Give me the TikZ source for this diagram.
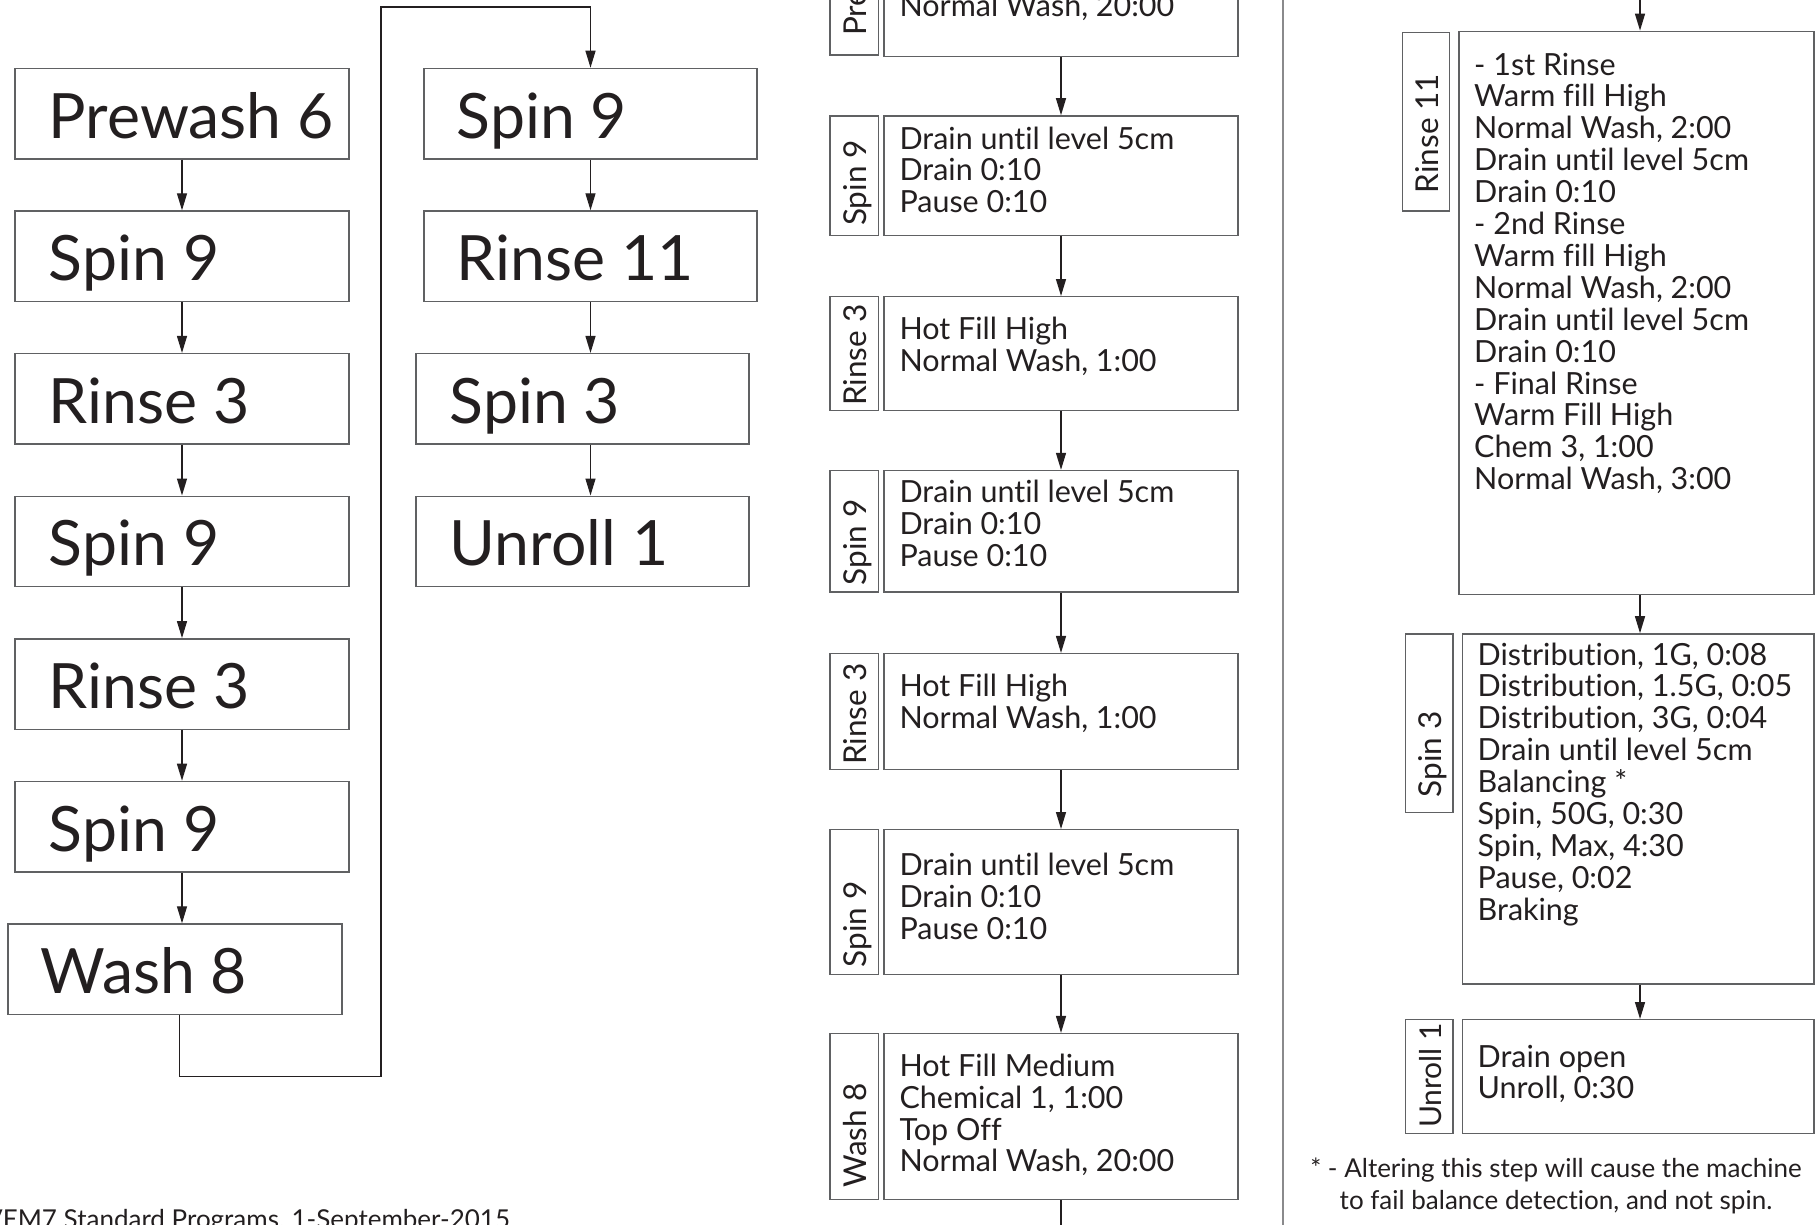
\documentclass[tikz,border=0pt]{standalone}
\usepackage{fontspec}
\setmainfont{Lato}[Ligatures={NoCommon}]
\usetikzlibrary{arrows.meta,fit}
\definecolor{ink}{HTML}{231F20}
\definecolor{boxc}{HTML}{606163}
\definecolor{sepc}{HTML}{8A8A8C}
\newcommand\mybox[5]{\node[bx, fit={(#2,#3) (#4,#5)}] (#1) {};}
\newcommand\mylines[4]{%
  \foreach \t [count=\i] in {#4} {%
    \node[txt] (#1-\i) at ({#2},{#3+31.9*(\i-1)}) {\t};}}
\begin{document}
\begin{tikzpicture}[x=1pt,y=-1pt,
  bx/.style={draw=boxc, line width=1.4pt, inner sep=0pt},
  txt/.style={inner sep=0pt, anchor=base west, font=\fontsize{30.5}{32}\selectfont, text=ink},
  big/.style={inner sep=0pt, anchor=base west, font=\fontsize{62.5}{70}\selectfont, text=ink},
  vlab/.style={inner sep=0pt, anchor=base west, rotate=90, font=\fontsize{31.5}{34}\selectfont, text=ink},
  note/.style={inner sep=0pt, anchor=base, font=\fontsize{26}{30}\selectfont, text=ink},
  arr/.style={draw=ink, line width=1.3pt, -{Triangle[length=17pt,width=10pt]}},
  ln/.style={draw=ink, line width=1.3pt},
  sepl/.style={draw=sepc, line width=1.5pt}]
\path[use as bounding box, fill=white] (0,0) rectangle (1817,1224);
\clip (0,0) rectangle (1817,1224);

% ---------- left overview ----------
\mybox{L1}{15}{68.4}{349}{158.8}
\mybox{L2}{15}{211}{349}{301.4}
\mybox{L3}{15}{353.6}{349}{444}
\mybox{L4}{15}{496.2}{349}{586.6}
\mybox{L5}{15}{638.8}{349}{729.2}
\mybox{L6}{15}{781.4}{349}{871.8}
\mybox{L7}{8}{924}{342}{1014.4}
\mybox{R1}{424}{68.4}{757}{158.8}
\mybox{R2}{424}{211}{757}{301.4}
\mybox{R3}{416}{353.6}{749}{444}
\mybox{R4}{416}{496.2}{749}{586.6}

\node[big] (tL1) at (48.7,138) {Prewash 6};
\node[big] (tL2) at (48.7,280.6) {Spin 9};
\node[big] (tL3) at (48.7,423.2) {Rinse 3};
\node[big] (tL4) at (48.7,565.8) {Spin 9};
\node[big] (tL5) at (48.7,708.4) {Rinse 3};
\node[big] (tL6) at (48.7,851) {Spin 9};
\node[big] (tL7) at (40.6,993.6) {Wash 8};
\node[big] (tR1) at (456.6,138) {Spin 9};
\node[big] (tR2) at (456.6,280.6) {Rinse 11};
\node[big] (tR3) at (449.6,423.2) {Spin 3};
\node[big] (tR4) at (449.6,565.8) {Unroll 1};

\draw[arr] (L1.south) -- (L2.north);
\draw[arr] (L2.south) -- (L3.north);
\draw[arr] (L3.south) -- (L4.north);
\draw[arr] (L4.south) -- (L5.north);
\draw[arr] (L5.south) -- (L6.north);
\draw[arr] (L6.south) -- (L6.south |- L7.north);
\coordinate (c1) at (179.6,1076.5);
\coordinate (c3) at (381,7);
\draw[arr] (L7.south -| c1) -- (c1) -| (c3) -| (R1.north);
\draw[arr] (R1.south) -- (R2.north);
\draw[arr] (R2.south) -- (R2.south |- R3.north);
\draw[arr] (R3.south -| R2.south) -- (R4.north -| R2.south);

% ---------- middle detail column ----------
\mybox{MA0}{830}{-20}{878.5}{55}
\mybox{M0}{884}{-20}{1238}{56.7}
\mybox{MA1}{830}{115.9}{878.5}{235.2}
\mybox{M1}{884}{115.9}{1238}{235.2}
\mybox{MA2}{830}{296.7}{878.5}{410.2}
\mybox{M2}{884}{296.7}{1238}{410.2}
\mybox{MA3}{830}{470.5}{878.5}{592.1}
\mybox{M3}{884}{470.5}{1238}{592.1}
\mybox{MA4}{830}{653.6}{878.5}{769.4}
\mybox{M4}{884}{653.6}{1238}{769.4}
\mybox{MA5}{830}{829.7}{878.5}{974.5}
\mybox{M5}{884}{829.7}{1238}{974.5}
\mybox{MA6}{830}{1033.6}{878.5}{1199.4}
\mybox{M6}{884}{1033.6}{1238}{1199.4}

\node[vlab] (vM0) at (866,36) {Prewash 6};
\node[vlab] (vM1) at (866,226) {Spin 9};
\node[vlab] (vM2) at (866,406) {Rinse 3};
\node[vlab] (vM3) at (866,585.2) {Spin 9};
\node[vlab] (vM4) at (866,765) {Rinse 3};
\node[vlab] (vM5) at (866,967.6) {Spin 9};
\node[vlab] (vM6) at (866,1187.8) {Wash 8};

\mylines{xM0}{899.3}{16.5}{{Normal Wash, 20:00}}
\mylines{xM1}{899.3}{149}{{Drain until level 5cm},{Drain 0:10},{Pause 0:10}}
\mylines{xM2}{899.3}{339.3}{{Hot Fill High},{Normal Wash, 1:00}}
\mylines{xM3}{899.3}{502.6}{{Drain until level 5cm},{Drain 0:10},{Pause 0:10}}
\mylines{xM4}{899.3}{696.2}{{Hot Fill High},{Normal Wash, 1:00}}
\mylines{xM5}{899.3}{875.8}{{Drain until level 5cm},{Drain 0:10},{Pause 0:10}}
\mylines{xM6}{899.3}{1076.2}{{Hot Fill Medium},{Chemical 1, 1:00},{Top Off},{Normal Wash, 20:00}}

\draw[arr] (M0.south) -- (M1.north);
\draw[arr] (M1.south) -- (M2.north);
\draw[arr] (M2.south) -- (M3.north);
\draw[arr] (M3.south) -- (M4.north);
\draw[arr] (M4.south) -- (M5.north);
\draw[arr] (M5.south) -- (M6.north);
\coordinate (mEnd) at (1061,1240);
\draw[ln] (M6.south) -- (M6.south |- mEnd);

% ---------- separator ----------
\coordinate (s1) at (1283,-5);
\coordinate (s2) at (1283,1230);
\draw[sepl] (s1) -- (s2);

% ---------- right detail column ----------
\mybox{NA1}{1402.2}{32.4}{1449.7}{210.9}
\mybox{N1}{1459}{31.3}{1814}{594.5}
\mybox{NA2}{1405.6}{633.9}{1453.1}{812.3}
\mybox{N2}{1462.4}{633.9}{1814}{983.8}
\mybox{NA3}{1405.6}{1019.7}{1453.1}{1133.3}
\mybox{N3}{1462.4}{1019.7}{1814}{1133.3}

\node[vlab] (vN1) at (1438,193.5) {Rinse 11};
\node[vlab] (vN2) at (1441.5,797.3) {Spin 3};
\node[vlab, font=\fontsize{30}{32}\selectfont] (vN3) at (1441,1128) {Unroll 1};

\mylines{xN1}{1474}{75}{{- 1st Rinse},{Warm fill High},{Normal Wash, 2:00},{Drain until level 5cm},{Drain 0:10},{- 2nd Rinse},{Warm fill High},{Normal Wash, 2:00},{Drain until level 5cm},{Drain 0:10},{- Final Rinse},{Warm Fill High},{Chem 3, 1:00},{Normal Wash, 3:00}}
\mylines{xN2}{1477.5}{665}{{Distribution, 1G, 0:08},{Distribution, 1.5G, 0:05},{Distribution, 3G, 0:04},{Drain until level 5cm},{Balancing *},{Spin, 50G, 0:30},{Spin, Max, 4:30},{Pause, 0:02},{Braking}}
\mylines{xN3}{1477.5}{1067}{{Drain open},{Unroll, 0:30}}

\coordinate (rTop) at (1640,-10);
\draw[arr] (rTop) -- (rTop |- N1.north);
\draw[arr] (N1.south -| rTop) -- (N2.north -| rTop);
\draw[arr] (N2.south -| rTop) -- (N3.north -| rTop);

\node[note] (fn1) at (1556,1177) {* - Altering this step will cause the machine};
\node[note] (fn2) at (1556,1209) {to fail balance detection, and not spin.};

% ---------- footer ----------
\node[inner sep=0pt, anchor=base west, font=\fontsize{26}{30}\selectfont, text=ink] (foot) at (-15,1228) {VEM7 Standard Programs, 1-September-2015};
\end{tikzpicture}
\end{document}
